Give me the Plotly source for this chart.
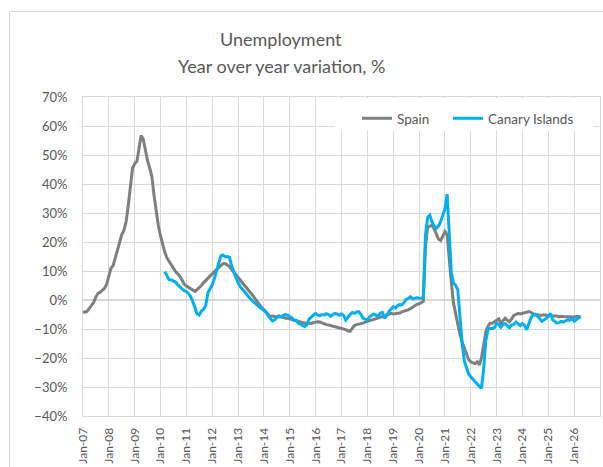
import pandas as pd
import plotly.graph_objects as go

# ---- data (monthly, year-over-year variation, %) ----
spain_start = "2007-01-01"
spain = [
    -4.0, -4.2, -3.9, -2.8, -1.6, -0.8, 1.0, 2.3, 2.7, 3.2, 4.0, 5.5,          # 2007
    8.0, 11.0, 11.8, 14.5, 17.5, 20.3, 22.5, 24.0, 27.0, 32.5, 40.0, 45.5,     # 2008
    47.0, 47.8, 52.0, 56.7, 55.5, 51.5, 48.0, 45.5, 42.5, 36.0, 30.5, 25.5,    # 2009
    22.0, 18.5, 16.5, 14.5, 13.2, 12.3, 11.0, 9.8, 9.0, 8.2, 6.8, 5.5,         # 2010
    4.8, 4.3, 4.0, 3.3, 3.0, 3.6, 4.2, 5.0, 6.0, 6.8, 7.6, 8.5,                # 2011
    9.2, 9.8, 10.5, 11.2, 12.0, 12.5, 12.6, 12.0, 11.5, 10.5, 9.6, 8.6,        # 2012
    7.8, 6.8, 5.8, 5.0, 4.3, 3.5, 2.5, 1.4, 0.3, -0.8, -1.7, -2.6,             # 2013
    -3.3, -4.2, -5.3, -5.8, -5.5, -5.6, -5.9, -5.5, -5.8, -6.0, -6.3, -6.3,    # 2014
    -6.5, -6.8, -7.0, -7.3, -7.5, -7.6, -7.8, -8.0, -7.9, -8.0, -8.1, -7.8,    # 2015
    -7.6, -7.5, -7.6, -8.0, -8.3, -8.5, -8.6, -8.8, -9.0, -9.1, -9.2, -9.6,    # 2016
    -9.6, -9.8, -10.2, -10.6, -10.8, -9.8, -8.8, -8.5, -8.4, -8.2, -8.0, -7.6, # 2017
    -7.4, -7.2, -6.9, -6.7, -6.5, -6.2, -6.0, -5.7, -5.4, -5.2, -4.9, -4.6,    # 2018
    -4.8, -4.7, -4.6, -4.5, -4.1, -3.9, -3.6, -3.4, -3.0, -2.5, -2.0, -1.5,    # 2019
    -1.3, -1.0, -0.5, 18.5, 25.0, 25.5, 25.8, 24.5, 23.0, 21.0, 20.5, 21.8,    # 2020
    23.6, 22.5, 14.0, 6.0, -1.0, -4.5, -9.0, -12.0, -14.5, -16.5, -18.5, -20.5,  # 2021
    -21.3, -21.8, -22.0, -21.3, -22.4, -20.0, -16.0, -11.0, -9.0, -8.0, -8.0, -7.5,  # 2022
    -7.0, -6.5, -8.0, -7.2, -6.3, -7.0, -7.5, -6.5, -5.3, -5.0, -4.6, -4.8,    # 2023
    -4.6, -4.5, -4.3, -4.0, -4.3, -4.8, -5.2, -5.0, -5.4, -5.2, -5.3, -5.2,    # 2024
    -5.6, -5.3, -5.5, -5.5, -5.5, -5.8, -5.6, -5.7, -5.7, -5.9, -5.8, -5.7,    # 2025
    -5.9, -5.6, -5.7, -5.7,                                                    # 2026
]

canary_start = "2010-03-01"
canary = [
    9.8, 8.2, 7.0, 6.9, 6.5, 6.2, 5.2, 4.4, 3.8, 3.2,                          # 2010 (Mar-Dec)
    2.9, 2.2, 1.2, -0.5, -2.9, -4.8, -5.2, -3.8, -3.2, -2.0, 2.5, 4.0,         # 2011
    5.2, 7.5, 10.0, 12.0, 15.2, 15.5, 14.9, 15.0, 14.7, 11.8, 9.5, 7.8,        # 2012
    6.0, 4.5, 3.8, 3.0, 2.0, 1.0, 0.0, -0.6, -1.2, -2.0, -2.5, -3.0,           # 2013
    -3.5, -4.3, -5.5, -6.5, -7.2, -6.9, -6.0, -5.7, -5.9, -5.3, -5.0, -5.2,    # 2014
    -5.6, -6.2, -7.0, -7.0, -8.0, -8.3, -8.8, -9.2, -8.5, -6.6, -5.8, -5.2,    # 2015
    -4.6, -5.2, -5.4, -5.0, -5.2, -4.7, -5.0, -5.6, -5.0, -4.6, -4.9, -5.3,    # 2016
    -4.8, -5.4, -6.9, -5.8, -5.0, -4.3, -4.6, -4.2, -4.0, -5.0, -6.3, -6.6,    # 2017
    -6.9, -5.8, -5.2, -4.8, -5.2, -5.6, -4.6, -4.3, -6.3, -5.4, -4.0, -3.2,    # 2018
    -2.3, -2.8, -2.0, -1.6, -1.7, -1.0, 0.2, 0.5, 1.1, 0.4, 0.5, 0.8,          # 2019
    0.6, 0.6, 1.0, 22.5, 28.5, 29.3, 27.0, 25.5, 24.7, 25.5, 27.0, 29.5,       # 2020
    31.5, 36.5, 23.0, 9.5, 6.0, 5.0, 3.5, -7.0, -15.0, -21.0, -23.5, -25.5,    # 2021
    -26.5, -27.5, -28.3, -29.0, -29.8, -30.5, -24.0, -14.0, -10.2, -9.8, -9.8, -9.6,  # 2022
    -8.0, -8.5, -9.4, -8.4, -8.2, -9.0, -9.6, -8.6, -8.4, -7.6, -8.2, -8.8,    # 2023
    -8.2, -8.8, -10.3, -8.2, -6.0, -5.2, -4.9, -5.6, -6.5, -7.3, -6.8, -6.4,   # 2024
    -5.5, -4.6, -6.8, -7.5, -8.0, -7.8, -7.4, -7.6, -7.2, -6.8, -7.0, -6.3,    # 2025
    -7.3, -6.8, -6.2, -5.7,                                                    # 2026
]

series_names = ["Spain", "Canary Islands"]
title_lines = ["Unemployment", "Year over year variation, %"]

spain_dates = pd.date_range(spain_start, periods=len(spain), freq="MS")
canary_dates = pd.date_range(canary_start, periods=len(canary), freq="MS")

# ---- layout geometry (pixels) ----
W, H = 603, 467
L, R, T, B = 83, 600, 97, 416


def px_x(x):
    return (x - L) / (R - L)


def px_y(y):
    return (B - y) / (B - T)


FONT = "Lato, 'Open Sans', sans-serif"
TXT = "#595959"
GRID = "#d9d9d9"

fig = go.Figure()
fig.add_trace(go.Scatter(x=spain_dates, y=spain, mode="lines", name=series_names[0],
                         legend="legend",
                         line=dict(color="#7f7f7f", width=3)))
fig.add_trace(go.Scatter(x=canary_dates, y=canary, mode="lines", name=series_names[1],
                         legend="legend2",
                         line=dict(color="#00b0f0", width=3)))

legend_common = dict(orientation="h", xanchor="left", yanchor="top",
                     bgcolor="rgba(0,0,0,0)", itemwidth=30,
                     font=dict(size=13.5, color=TXT, family=FONT))

fig.update_layout(
    width=W, height=H,
    margin=dict(l=L, r=W - R, t=T, b=H - B, pad=0, autoexpand=False),
    paper_bgcolor="white", plot_bgcolor="white",
    font=dict(family=FONT, color=TXT, size=13),
    showlegend=True,
    legend=dict(x=px_x(357), y=px_y(103), **legend_common),
    legend2=dict(x=px_x(448), y=px_y(103), **legend_common),
    xaxis=dict(type="date", range=["2007-01-01", "2026-12-31 12:00"],
               tick0="2007-01-01", dtick="M12", tickformat="%b-%y", tickangle=-90,
               showgrid=True, gridcolor=GRID, gridwidth=1,
               showline=True, linecolor=GRID, linewidth=1, mirror=True,
               ticks="", ticklabelstandoff=6, automargin=False,
               tickfont=dict(size=12, color=TXT, family=FONT)),
    yaxis=dict(range=[-40, 70], dtick=10, tick0=0, ticksuffix="%",
               showgrid=True, gridcolor=GRID, gridwidth=1,
               zeroline=True, zerolinecolor=GRID, zerolinewidth=2,
               showline=True, linecolor=GRID, linewidth=1, mirror=True,
               ticks="", ticklabelstandoff=12, automargin=False,
               tickfont=dict(size=13, color=TXT, family=FONT)),
    annotations=[
        dict(text=title_lines[0], x=px_x(281), y=px_y(39), xref="paper", yref="paper",
             xanchor="center", yanchor="middle", showarrow=False,
             font=dict(size=18, color=TXT, family=FONT)),
        dict(text=title_lines[1], x=px_x(281), y=px_y(66), xref="paper", yref="paper",
             xanchor="center", yanchor="middle", showarrow=False,
             font=dict(size=18, color=TXT, family=FONT)),
    ],
    shapes=[
        # legend white box covering gridlines
        dict(type="rect", xref="paper", yref="paper", layer="above",
             x0=px_x(335), x1=px_x(593), y0=px_y(131), y1=px_y(98.5),
             fillcolor="white", line=dict(width=0)),
        # chart outer border (left and top visible)
        dict(type="line", xref="paper", yref="paper",
             x0=px_x(9.5), x1=px_x(9.5), y0=px_y(11.5), y1=px_y(470),
             line=dict(color=GRID, width=1)),
        dict(type="line", xref="paper", yref="paper",
             x0=px_x(9.5), x1=px_x(610), y0=px_y(11.5), y1=px_y(11.5),
             line=dict(color=GRID, width=1)),
    ],
)

fig.write_html(
    "out.html",
    config={"displayModeBar": False},
    post_script="document.body.style.margin='0';document.body.style.padding='0';",
)
